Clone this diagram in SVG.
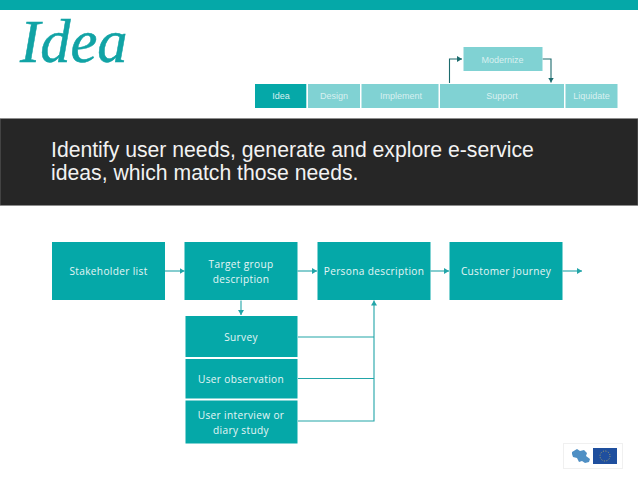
<svg xmlns="http://www.w3.org/2000/svg" width="638" height="479" viewBox="0 0 638 479">
<style>
.p{font:9px "Liberation Sans",Arial,sans-serif;fill:#d8f0f0;text-anchor:middle}
.b{font:10.1px "Open Sans",sans-serif;fill:#e6f6f6;text-anchor:middle;letter-spacing:.35px}
.h{font:21.2px "Liberation Sans",Arial,sans-serif;fill:#f2f2f2}
.t{fill:#05a8a8}.l{fill:#80d2d3}
.c{fill:none;stroke:#22a5a8;stroke-width:1.1}
.d{fill:none;stroke:#1c6b6d;stroke-width:1.1}
</style>
<defs>
<marker id="a" markerWidth="6" markerHeight="6" refX="5" refY="3" orient="auto" markerUnits="userSpaceOnUse"><path d="M0 0L5 3L0 6z" fill="#22a5a8"/></marker>
<marker id="e" markerWidth="6" markerHeight="6" refX="5" refY="3" orient="auto" markerUnits="userSpaceOnUse"><path d="M0 0L5 3L0 6z" fill="#1c6b6d"/></marker>
</defs>
<rect width="638" height="479" fill="#fff"/>
<rect id="top-bar" width="638" height="10" class="t"/>
<text id="title" x="20" y="62" font-family="'Liberation Serif',serif" font-style="italic" font-size="60.500" fill="#11a3a5" stroke="#11a3a5" stroke-width=".5">Idea</text>
<rect id="band" y="118.500" width="638" height="87" fill="#262626" stroke="#8a8a8a" stroke-width=".6"/>
<text class="h" x="51" y="157">Identify user needs, generate and explore e-service</text>
<text class="h" x="51" y="180">ideas, which match those needs.</text>
<g id="connectors">
<path class="d" marker-end="url(#e)" d="M449.500 83V59H462"/>
<path class="d" marker-end="url(#e)" d="M542.500 59H551V82.500"/>
<path class="c" marker-end="url(#a)" d="M165 271H184.500"/>
<path class="c" marker-end="url(#a)" d="M297.500 271H317"/>
<path class="c" marker-end="url(#a)" d="M430.500 271H449"/>
<path class="c" marker-end="url(#a)" d="M562.500 271H582"/>
<path class="c" marker-end="url(#a)" d="M241 300.500V315"/>
<path class="c" marker-end="url(#a)" d="M298 421H374V300.500"/>
<path class="c" d="M298 337H374M298 378.500H374"/>
</g>
<g id="n-idea"><rect x="255" y="84" width="51.300" height="24" class="t"/><text class="p" x="281" y="99">Idea</text></g>
<g id="n-design"><rect x="308" y="84" width="52" height="24" class="l"/><text class="p" x="334" y="99">Design</text></g>
<g id="n-implement"><rect x="361.500" y="84" width="77" height="24" class="l"/><text class="p" x="401" y="99">Implement</text></g>
<g id="n-support"><rect x="440" y="84" width="124" height="24" class="l"/><text class="p" x="502" y="99">Support</text></g>
<g id="n-liquidate"><rect x="565.500" y="84" width="52" height="24" class="l"/><text class="p" x="591.500" y="99">Liquidate</text></g>
<g id="n-modernize"><rect x="463.500" y="47" width="79" height="24" class="l"/><text class="p" x="502.500" y="63">Modernize</text></g>
<g id="n-stakeholder"><rect x="52" y="242" width="113" height="58" class="t"/><text class="b" x="108.500" y="275">Stakeholder list</text></g>
<g id="n-target"><rect x="184.500" y="242" width="113" height="58" class="t"/><text class="b" x="241" y="268">Target group</text><text class="b" x="241" y="283">description</text></g>
<g id="n-persona"><rect x="317.500" y="242" width="113" height="58" class="t"/><text class="b" x="374" y="275">Persona description</text></g>
<g id="n-journey"><rect x="449.500" y="242" width="113" height="58" class="t"/><text class="b" x="506" y="275">Customer journey</text></g>
<g id="n-survey"><rect x="185.500" y="316" width="112" height="41" class="t"/><text class="b" x="241" y="341">Survey</text></g>
<g id="n-observation"><rect x="185.500" y="359" width="112" height="39.500" class="t"/><text class="b" x="241" y="383">User observation</text></g>
<g id="n-interview"><rect x="185.500" y="400.500" width="112" height="43" class="t"/><text class="b" x="241" y="419">User interview or</text><text class="b" x="241" y="434">diary study</text></g>
<g id="logos">
<rect x="563.500" y="443.500" width="59" height="25" fill="#fff" stroke="#f0f0f0"/>
<path d="M572 452l5-3 3 2 4-1 3 3-1 3 4 3-1 3-4 1-3-2-3 1-2-4-4-1-1-3z" fill="#4f8fc4"/>
<rect x="593" y="448" width="24" height="16" fill="#1f4f9e"/>
<circle cx="605" cy="456" r="5" fill="none" stroke="#c9b95a" stroke-width=".8" stroke-dasharray="1 1.600"/>
</g>
</svg>
